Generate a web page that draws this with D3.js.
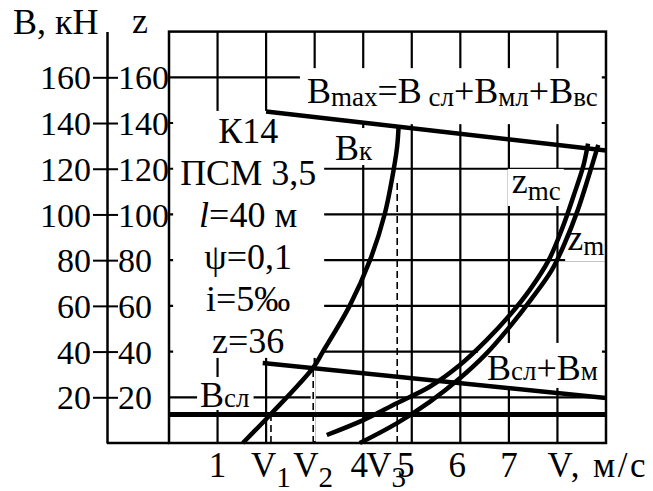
<!DOCTYPE html>
<html>
<head>
<meta charset="utf-8">
<script src="https://cdn.jsdelivr.net/npm/d3@7"></script>
<style>
  html, body { margin: 0; padding: 0; background: #fff; }
</style>
</head>
<body>
<svg id="chart" width="653" height="491"></svg>
<script>
// ---- data -------------------------------------------------------------
// speed axis V, m/s and force axis B, kN (the z scale shares the B ticks)
const vGrid = [1, 2, 3, 4, 5, 6, 7, 8];
const bGrid = [20, 40, 60, 80, 100, 120, 140, 160];
const bTickLabels = ["20", "40", "60", "80", "100", "120", "140", "160"];
const zTickLabels = ["20", "40", "60", "80", "100", "120", "140", "160"];

// characteristic speeds
const V1 = 2.1;
const V2 = 2.97;
const V3 = 4.7;

// sliding resistance B_сл (constant)
const bSl = 12.5;
// B_сл + B_м
const bSlBm = [[1.93, 35], [9, 19.7]];
// B_max = B_сл + B_мл + B_вс
const bMaxLine = [[2, 145], [9, 128]];
// B_к
const bkCurve = [[1.52, 0], [2.1, 12.7], [2.97, 33], [3.17, 40], [3.72, 60], [4.14, 80],
                 [4.44, 100], [4.63, 120], [4.7, 130], [4.73, 139]];
// z_mc
const zmcCurve = [[3.25, 3.5], [4.0, 10], [4.69, 17.4], [5.37, 24.6], [5.99, 34.1], [6.54, 45],
                  [7.02, 56], [7.43, 67], [7.82, 80], [8.1, 94], [8.33, 108], [8.53, 121], [8.63, 131]];
// z_m
const zmCurve = [[3.93, 0], [4.69, 8.6], [5.37, 18], [5.99, 28.3], [6.54, 39.2], [7.02, 50.9],
                 [7.45, 62.6], [7.88, 75.5], [8.15, 87.4], [8.42, 102], [8.64, 116.5], [8.84, 130.4]];

// bottom labels: value, main text, subscript, horizontal nudge
const vLabels = [
  { v: 1, t: "1" },
  { v: V1, t: "V", sub: "1" },
  { v: V2, t: "V", sub: "2" },
  { v: 4, t: "4", dx: -4 },
  { v: V3, t: "V", sub: "3", dx: -11 },
  { v: 5, t: "5", dx: -6 },
  { v: 6, t: "6", dx: -3 },
  { v: 7, t: "7" }
];
const vAxisTitle = "V, м/с";

// parameter block
const paramLines = [
  [{ t: "К14" }],
  [{ t: "ПСМ 3,5" }],
  [{ t: "l", it: true }, { t: "=40 м" }],
  [{ t: "ψ=0,1" }],
  [{ t: "i=5‰" }],
  [{ t: "z=36" }]
];

// ---- layout -----------------------------------------------------------
const svg = d3.select("#chart");
const x = d3.scaleLinear().domain([0, 9]).range([169, 606]);
const y = d3.scaleLinear().domain([0, 180]).range([443, 31.6]);
const zScale = d3.scaleLinear().domain([0, 180]).range([443, 31.6]);
const axisX = 107;
const FS = 36, SUB = 27;
const FONT = '"Liberation Serif"';

const gGrid = svg.append("g");
const gMask = svg.append("g");
const gFrame = svg.append("g");
const gLines = svg.append("g");
const gText = svg.append("g");

// grid
gGrid.selectAll("line.v").data(vGrid).join("line")
  .attr("x1", d => x(d)).attr("x2", d => x(d))
  .attr("y1", y(0)).attr("y2", y(180))
  .attr("stroke", "#000").attr("stroke-width", 2.2);
gGrid.selectAll("line.h").data(bGrid).join("line")
  .attr("x1", x(0)).attr("x2", x(9))
  .attr("y1", d => y(d)).attr("y2", d => y(d))
  .attr("stroke", "#000").attr("stroke-width", 2.2);

// text helper with subscripts
function rich(g, runs, o) {
  const t = g.append("text")
    .attr("x", o.x).attr("y", o.y)
    .attr("font-size", o.size || FS)
    .attr("text-anchor", o.anchor || "start")
    .style("font-family", FONT);
  let shift = 0;
  runs.forEach(r => {
    const s = r.sub ? (o.subShift || 0) : 0;
    const sp = t.append("tspan").attr("dy", s - shift)
      .attr("font-size", r.sub ? (o.subSize || SUB) : (o.size || FS))
      .style("font-family", FONT)
      .text(r.t);
    if (r.it) sp.attr("font-style", "italic");
    shift = s;
  });
  return t;
}
// white backing under a label so the grid stops at its edges
function knockout(node, pad) {
  const b = node.getBBox();
  gMask.append("rect")
    .attr("x", b.x - pad[3]).attr("y", b.y - pad[0])
    .attr("width", b.width + pad[1] + pad[3])
    .attr("height", b.height + pad[0] + pad[2])
    .attr("fill", "#fff");
}

// parameter block
const gParam = gText.append("g");
paramLines.forEach((runs, i) => {
  rich(gParam, runs, { x: x(1.63), y: y(131.3) + i * 42, anchor: "middle" });
});
knockout(gParam.node(), [0, 8, -3, 7]);

// curve labels
const labels = [
  { runs: [{ t: "B" }, { t: "max", sub: true }, { t: "=B" }, { t: " сл", sub: true }, { t: "+B" },
           { t: "мл", sub: true }, { t: "+B" }, { t: "вс", sub: true }],
    v: 2.84, b: 148.7, shift: 3, pad: [3, 4, 12, 7] },
  { runs: [{ t: "B" }, { t: "к", sub: true }], v: 3.42, b: 123.8, shift: 0, pad: [0, 3, -3, 3] },
  { runs: [{ t: "z" }, { t: "mc", sub: true }], v: 7.06, b: 109.4, shift: 7, pad: [-8, 3, 0, 4] },
  { runs: [{ t: "z" }, { t: "m", sub: true }], v: 8.2, b: 84.4, shift: 5, pad: [-8, 4, 0, 2] },
  { runs: [{ t: "B" }, { t: "сл", sub: true }, { t: "+B" }, { t: "м", sub: true }],
    v: 6.55, b: 27.6, shift: 0, pad: [5, 4, 0, 9] },
  { runs: [{ t: "B" }, { t: "сл", sub: true }], v: 0.64, b: 15.75, shift: 0, pad: [-2, 4, -5, 3] }
];
labels.forEach(l => {
  const t = rich(gText, l.runs, { x: x(l.v), y: y(l.b), subShift: l.shift });
  knockout(t.node(), l.pad);
});

// frame, left axis and base line
gFrame.append("rect")
  .attr("x", x(0)).attr("y", y(180))
  .attr("width", x(9) - x(0)).attr("height", y(0) - y(180))
  .attr("fill", "none").attr("stroke", "#000").attr("stroke-width", 2.5);
gFrame.append("line")
  .attr("x1", axisX).attr("x2", x(0)).attr("y1", y(0)).attr("y2", y(0))
  .attr("stroke", "#000").attr("stroke-width", 2.5);

const axB = gFrame.append("g").attr("transform", `translate(${axisX},0)`)
  .call(d3.axisLeft(y).tickValues(bGrid).tickSizeInner(14).tickSizeOuter(0).tickPadding(2)
    .tickFormat((d, i) => bTickLabels[i]));
const axZ = gFrame.append("g").attr("transform", `translate(${axisX},0)`)
  .call(d3.axisRight(zScale).tickValues(bGrid).tickSizeInner(11).tickSizeOuter(0).tickPadding(0)
    .tickFormat((d, i) => zTickLabels[i]));
[axB, axZ].forEach(a => {
  a.attr("font-family", null).attr("font-size", null);
  a.select(".domain").attr("stroke-width", 2.5);
  a.selectAll(".tick line").attr("stroke-width", 2);
  a.selectAll(".tick text").attr("font-size", 34)
    .style("font-family", FONT).attr("dy", "0.34em");
});
axZ.select(".domain").remove();

// axis titles
rich(gText, [{ t: "B, кН" }], { x: 13, y: 34 });
rich(gText, [{ t: "z" }], { x: 132, y: 33 });

// dashed speed markers
const bAt = (seg, v) => seg[0][1] + (seg[1][1] - seg[0][1]) * (v - seg[0][0]) / (seg[1][0] - seg[0][0]);
const markers = [
  { v: V1, top: bSl },
  { v: V2, top: bAt(bSlBm, V2) },
  { v: V3, top: 114 }
];
gLines.append("line")
  .attr("x1", x(V2)).attr("x2", x(V2)).attr("y1", y(0) - 2).attr("y2", y(bAt(bSlBm, V2)))
  .attr("stroke", "#fff").attr("stroke-width", 5);
gLines.selectAll("line.mk").data(markers).join("line")
  .attr("x1", d => x(d.v)).attr("x2", d => x(d.v))
  .attr("y1", y(0)).attr("y2", d => y(d.top))
  .attr("stroke", "#000").attr("stroke-width", 1.6).attr("stroke-dasharray", "7,4");

// force lines and curves
const line = d3.line().x(d => x(d[0])).y(d => y(d[1]));
const smooth = d3.line().x(d => x(d[0])).y(d => y(d[1])).curve(d3.curveCatmullRom.alpha(0.5));
gLines.append("path").attr("d", line([[0, bSl], [9, bSl]]))
  .attr("stroke", "#000").attr("stroke-width", 5).attr("fill", "none");
[bSlBm, bMaxLine].forEach(s => gLines.append("path").attr("d", line(s))
  .attr("stroke", "#000").attr("stroke-width", 4.5).attr("fill", "none"));
[bkCurve, zmcCurve, zmCurve].forEach(c => gLines.append("path").attr("d", smooth(c))
  .attr("stroke", "#000").attr("stroke-width", 4.5).attr("fill", "none"));

// bottom labels
vLabels.forEach(l => {
  const runs = [{ t: l.t }];
  if (l.sub) runs.push({ t: l.sub, sub: true });
  rich(gText, runs, { x: x(l.v) + (l.dx || 0), y: 477, anchor: "middle", size: 35, subSize: 29, subShift: 10 });
});
rich(gText, [{ t: vAxisTitle }], { x: x(8) - 10, y: 477, size: 35 })
  .attr("textLength", 98).attr("lengthAdjust", "spacing");
</script>
</body>
</html>
